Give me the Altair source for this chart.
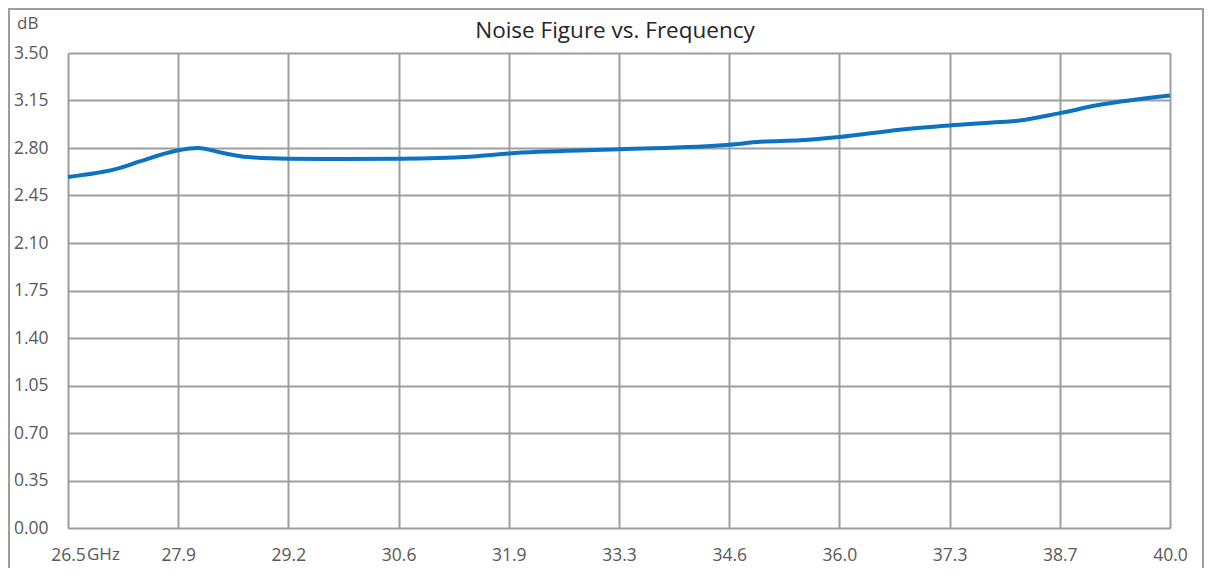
import altair as alt
import pandas as pd

# Measured curve (GHz, dB)
freq_ghz = [26.5, 27.14, 27.38, 27.84, 28.09, 28.40, 28.69, 29.2, 29.87, 30.57,
            31.42, 31.9, 33.25, 34.6, 34.98, 35.47, 35.95, 36.69, 37.3, 37.92,
            38.16, 38.65, 39.14, 40.0]
nf_db = [2.587, 2.653, 2.701, 2.782, 2.800, 2.763, 2.734, 2.721, 2.719, 2.721,
         2.736, 2.760, 2.790, 2.824, 2.846, 2.857, 2.881, 2.935, 2.966, 2.991,
         3.003, 3.057, 3.118, 3.187]

# Axis ticks
x_tick_values = [26.5, 27.85, 29.2, 30.55, 31.9, 33.25, 34.6, 35.95, 37.3, 38.65, 40.0]
x_tick_labels = ["26.5", "27.9", "29.2", "30.6", "31.9", "33.3", "34.6", "36.0", "37.3", "38.7", "40.0"]
y_tick_values = [0.0, 0.35, 0.70, 1.05, 1.40, 1.75, 2.10, 2.45, 2.80, 3.15, 3.50]

W, H = 1102, 475
GRID = "#9E9E9E"
LABEL = "#595959"
FONT = "Open Sans"
LSIZE = 17.5

df = pd.DataFrame({"freq": freq_ghz, "nf": nf_db})

x_label_expr = (
    "[" + ",".join(f"'{l}'" for l in x_tick_labels) + "]"
    "[round((datum.value - 26.5) / 1.35)]"
)

x_enc = alt.X(
    "freq:Q",
    scale=alt.Scale(domain=[26.5, 40.0], nice=False, zero=False),
    axis=alt.Axis(
        values=x_tick_values, labelExpr=x_label_expr, title=None,
        grid=True, gridColor=GRID, gridWidth=2, gridOpacity=1,
        domain=False, ticks=False, tickSize=0, labelPadding=18,
        labelFont=FONT, labelFontSize=LSIZE, labelColor=LABEL,
        labelBaseline="top", labelFlush=False,
    ),
)
y_enc = alt.Y(
    "nf:Q",
    scale=alt.Scale(domain=[0, 3.5], nice=False),
    axis=alt.Axis(
        values=y_tick_values, format=".2f", title=None,
        grid=True, gridColor=GRID, gridWidth=2, gridOpacity=1,
        domain=False, ticks=False, tickSize=0, labelPadding=20,
        labelFont=FONT, labelFontSize=LSIZE, labelColor=LABEL,
        labelFlush=False,
    ),
)

line = alt.Chart(df).mark_line(
    color="#0B73C1", strokeWidth=4, interpolate="monotone"
).encode(x=x_enc, y=y_enc)

border = alt.Chart(pd.DataFrame({"k": [0]})).mark_rect(
    fill=None, stroke=GRID, strokeWidth=2
).encode(
    x=alt.value(-59), x2=alt.value(1135), y=alt.value(-44), y2=alt.value(600)
)

title = alt.Chart(pd.DataFrame({"t": ["Noise Figure vs. Frequency"]})).mark_text(
    font=FONT, fontSize=22.5, color="#262626", align="center", baseline="middle"
).encode(text="t:N", x=alt.value(W / 2 - 4), y=alt.value(-22))

db = alt.Chart(pd.DataFrame({"t": ["dB"]})).mark_text(
    font=FONT, fontSize=17, color=LABEL, align="left", baseline="middle"
).encode(text="t:N", x=alt.value(-51), y=alt.value(-29))

ghz = alt.Chart(pd.DataFrame({"t": ["GHz"]})).mark_text(
    font=FONT, fontSize=17, color=LABEL, align="left", baseline="top"
).encode(text="t:N", x=alt.value(19), y=alt.value(H + 18.5))

chart = alt.layer(border, line, title, db, ghz).properties(
    width=W, height=H,
    autosize=alt.AutoSizeParams(type="none"),
    padding={"left": 60, "top": 45, "right": 34, "bottom": 40},
).configure_view(stroke=None).configure(background="white")

chart.save("out.html", embed_options={"renderer": "svg", "actions": False})
